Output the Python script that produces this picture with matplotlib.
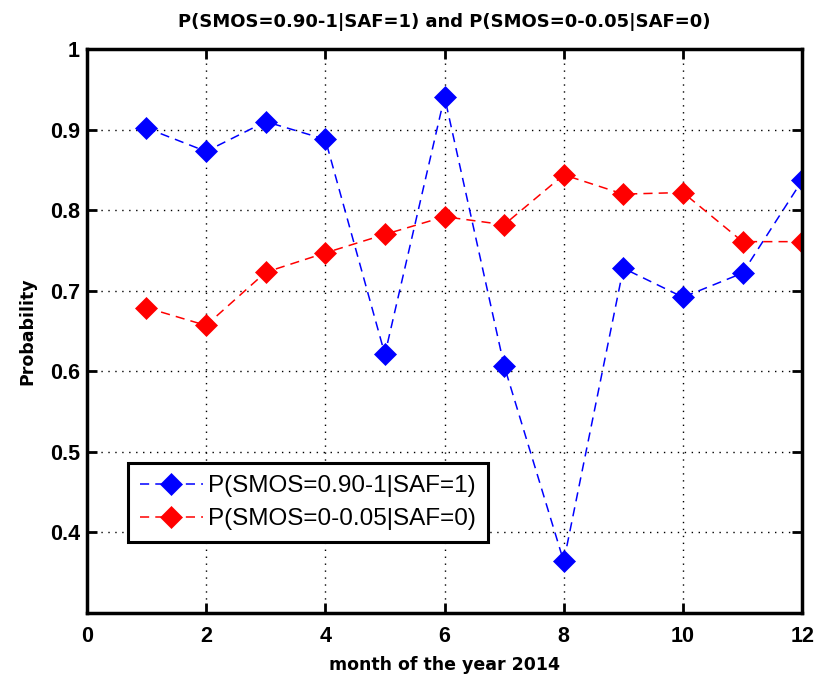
import matplotlib
matplotlib.use("Agg")
import matplotlib.pyplot as plt

months = [1, 2, 3, 4, 5, 6, 7, 8, 9, 10, 11, 12]
p_wet = [0.902, 0.873, 0.910, 0.888, 0.621, 0.941, 0.607, 0.364, 0.728, 0.692, 0.722, 0.837]
p_dry = [0.679, 0.657, 0.723, 0.747, 0.770, 0.792, 0.782, 0.844, 0.820, 0.822, 0.761, 0.761]
label_wet = "P(SMOS=0.90-1|SAF=1)"
label_dry = "P(SMOS=0-0.05|SAF=0)"
title = "P(SMOS=0.90-1|SAF=1) and P(SMOS=0-0.05|SAF=0)"
x_ticks = [0, 2, 4, 6, 8, 10, 12]
y_ticks = [0.4, 0.5, 0.6, 0.7, 0.8, 0.9, 1.0]
y_tick_labels = ["0.4", "0.5", "0.6", "0.7", "0.8", "0.9", "1"]

plt.rcParams["font.family"] = ["Liberation Sans", "DejaVu Sans"]
bold_family = ["DejaVu Sans"]

fig = plt.figure(figsize=(8.27, 6.86), dpi=100)
ax = fig.add_axes([0.105, 0.1064, 0.865, 0.822])

ax.plot(months, p_wet, color="#0000ff", linestyle=(0, (6, 4)), linewidth=1.1,
        marker="D", markersize=11, markeredgewidth=0.5, label=label_wet)
ax.plot(months, p_dry, color="#ff0000", linestyle=(0, (6, 4)), linewidth=1.1,
        marker="D", markersize=11, markeredgewidth=0.5, label=label_dry)

ax.set_xlim(0, 12)
ax.set_ylim(0.3, 1.0)
ax.set_xticks(x_ticks)
ax.set_yticks(y_ticks)
ax.set_yticklabels(y_tick_labels)

ax.grid(True, color="black", linestyle=(0, (1, 4)), linewidth=1.0)
ax.tick_params(direction="in", length=7, width=2, top=True, right=True,
               labelsize=15.5)
ax.tick_params(axis="x", pad=9)
ax.tick_params(axis="y", pad=5)
for lab in ax.get_xticklabels() + ax.get_yticklabels():
    lab.set_fontweight("bold")
for sp in ax.spines.values():
    sp.set_linewidth(2.5)

ax.set_title(title, fontsize=13, fontweight="bold", family=bold_family, pad=16)
ax.set_xlabel("month of the year 2014", fontsize=12.5, fontweight="bold",
              family=bold_family, labelpad=7)
ax.set_ylabel("Probability", fontsize=12.5, fontweight="bold",
              family=bold_family, labelpad=10)

leg = ax.legend(loc="upper left", bbox_to_anchor=(0.057, 0.266), borderaxespad=0,
                fontsize=17.5, fancybox=False, framealpha=1, edgecolor="black",
                handlelength=2.6, handletextpad=0.2, borderpad=0.5, labelspacing=0.45)
leg.get_frame().set_linewidth(2.2)

fig.savefig("out.png", dpi=100)
